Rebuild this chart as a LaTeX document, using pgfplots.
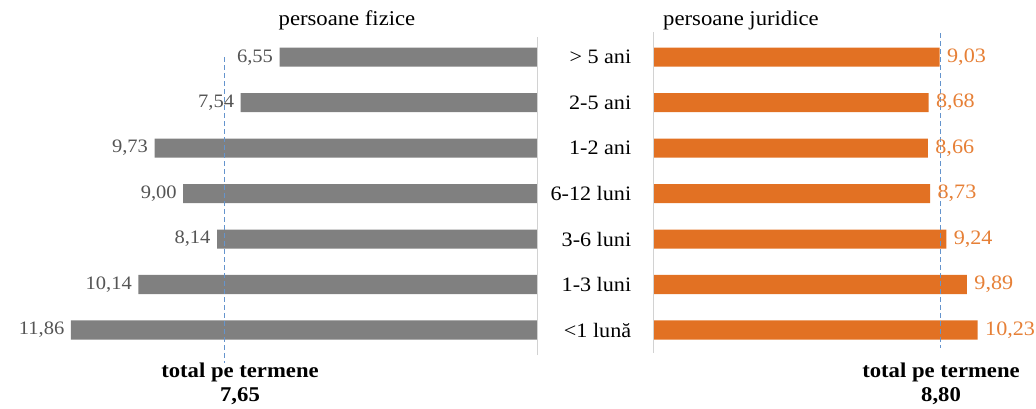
\documentclass[border=0pt]{standalone}
\usepackage{fontspec}
\setmainfont{Liberation Serif}[FakeStretch=1.08]
\usepackage{pgfplots}
\pgfplotsset{compat=1.18}
\definecolor{bargray}{RGB}{128,128,128}
\definecolor{barorange}{RGB}{226,113,35}
\definecolor{laborange}{RGB}{230,128,55}
\definecolor{labgray}{RGB}{85,85,85}
\definecolor{dashblue}{RGB}{100,148,205}
\definecolor{axgray}{RGB}{210,210,210}

\pgfplotstableread{
idx val
6 6.55
5 7.54
4 9.73
3 9.00
2 8.14
1 10.14
0 11.86
}\fizice
\pgfplotstableread{
idx val
6 9.03
5 8.68
4 8.66
3 8.73
2 9.24
1 9.89
0 10.23
}\juridice

\begin{document}
\begin{tikzpicture}[x=1pt,y=1pt]
\path[use as bounding box] (0,0) rectangle (1036,408);
% left panel
\begin{axis}[
  at={(26pt,53pt)}, anchor=south west, scale only axis,
  width=511pt, height=316pt,
  xmin=0, xmax=13, ymin=-0.55, ymax=6.4, x dir=reverse,
  axis line style={draw=none}, tick style={draw=none},
  xtick=\empty, ytick=\empty, clip=false,
  xbar, bar width=0.42, bar shift=0pt,
  nodes near coords,
  nodes near coords align=center,
  every node near coord/.append style={anchor=east, xshift=-3pt, font=\fontsize{19}{19}\selectfont, text=labgray},
  /pgf/number format/fixed, /pgf/number format/fixed zerofill,
  /pgf/number format/precision=2, /pgf/number format/use comma,
  /pgf/number format/assume math mode=true,
]
\addplot[fill=bargray, draw=none] table[x=val, y=idx] {\fizice};
\draw[axgray, line width=0.8pt] (axis cs:0,-0.55) -- (axis cs:0,6.45);
\draw[dashblue, line width=1pt, dash pattern=on 5pt off 3pt] (axis cs:7.96,6.0) -- (axis cs:7.96,-0.73);
\end{axis}
% right panel
\begin{axis}[
  at={(653pt,53pt)}, anchor=south west, scale only axis,
  width=365pt, height=316pt,
  xmin=0, xmax=11.5, ymin=-0.55, ymax=6.4,
  axis line style={draw=none}, tick style={draw=none},
  xtick=\empty, ytick={0,...,6},
  yticklabels={<1 lună, 1-3 luni, 3-6 luni, 6-12 luni, 1-2 ani, 2-5 ani, > 5 ani},
  yticklabel style={font=\fontsize{20.5}{20.5}\selectfont, anchor=east, xshift=-14pt},
  clip=false,
  xbar, bar width=0.42, bar shift=0pt,
  nodes near coords,
  nodes near coords align=center,
  every node near coord/.append style={anchor=west, xshift=4pt, font=\fontsize{20.5}{20.5}\selectfont, text=laborange},
  /pgf/number format/fixed, /pgf/number format/fixed zerofill,
  /pgf/number format/precision=2, /pgf/number format/use comma,
  /pgf/number format/assume math mode=true,
]
\addplot[fill=barorange, draw=none] table[x=val, y=idx] {\juridice};
\draw[axgray, line width=0.8pt] (axis cs:0,-0.5) -- (axis cs:0,6.55);
\draw[dashblue, line width=1pt, dash pattern=on 5pt off 3pt] (axis cs:9.06,6.53) -- (axis cs:9.06,-0.4);
\end{axis}
% titles
\node[font=\fontsize{21}{21}\selectfont] at (347,388) {persoane fizice};
\node[font=\fontsize{21}{21}\selectfont] at (741,388) {persoane juridice};
% totals
\node[font=\fontsize{21}{24}\bfseries, align=center] at (240,24) {total pe termene\\7,65};
\node[font=\fontsize{21}{24}\bfseries, align=center] at (941,24) {total pe termene\\8,80};
\end{tikzpicture}
\end{document}
